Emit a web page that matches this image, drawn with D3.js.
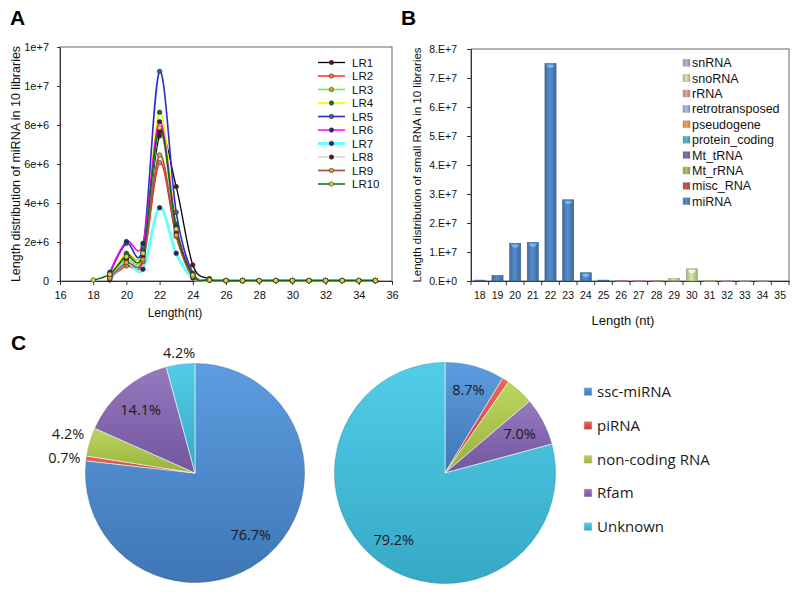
<!DOCTYPE html>
<html><head><meta charset="utf-8">
<script src="https://cdn.jsdelivr.net/npm/d3@7/dist/d3.min.js"></script>
<style>body{margin:0;background:#fff}svg{display:block}</style>
</head><body>
<svg id="c" width="798" height="597"></svg>
<script>
// ---------- Panel A data (values in millions) ----------
const lengthsA = [18,19,20,21,22,23,24,25,26,27,28,29,30,31,32,33,34,35];
const LR1  = [null,0.25,1.35,1.50,7.44,4.84,0.82,0.12,0.03,0.02,0.02,0.02,0.02,0.02,0.02,0.02,0.02,0.02];
const LR2  = [null,0.12,0.77,0.99,6.07,2.28,0.22,0.05,0.02,0.02,0.02,0.02,0.02,0.02,0.02,0.02,0.02,0.02];
const LR3  = [null,0.20,1.08,1.35,7.74,2.55,0.28,0.05,0.02,0.02,0.02,0.02,0.02,0.02,0.02,0.02,0.02,0.02];
const LR4  = [null,0.30,1.42,1.59,8.65,2.92,0.38,0.06,0.02,0.02,0.02,0.02,0.02,0.02,0.02,0.02,0.02,0.02];
const LR5  = [null,0.38,1.93,1.76,10.75,3.52,0.40,0.06,0.02,0.02,0.02,0.02,0.02,0.02,0.02,0.02,0.02,0.02];
const LR6  = [null,0.45,2.02,1.93,8.17,2.78,0.35,0.06,0.02,0.02,0.02,0.02,0.02,0.02,0.02,0.02,0.02,0.02];
const LR7  = [null,0.05,0.95,0.60,3.76,1.42,0.15,0.04,0.02,0.02,0.02,0.02,0.02,0.02,0.02,0.02,0.02,0.02];
const LR8  = [null,0.20,1.15,1.25,7.66,2.45,0.30,0.05,0.02,0.02,0.02,0.02,0.02,0.02,0.02,0.02,0.02,0.02];
const LR9  = [null,0.15,0.94,1.10,6.46,2.35,0.22,0.05,0.02,0.02,0.02,0.02,0.02,0.02,0.02,0.02,0.02,0.02];
const LR10 = [0.05,0.35,1.25,1.42,7.86,2.67,0.30,0.05,0.02,0.02,0.02,0.02,0.02,0.02,0.02,0.02,0.02,0.02];
const seriesNamesA = ["LR1","LR2","LR3","LR4","LR5","LR6","LR7","LR8","LR9","LR10"];
const seriesValuesA = [LR1,LR2,LR3,LR4,LR5,LR6,LR7,LR8,LR9,LR10];
const xTicksA = [16,18,20,22,24,26,28,30,32,34,36];
const yTicksA = [0,2,4,6,8,10,12];
const yTickLabelsA = ["0","2e+6","4e+6","6e+6","8e+6","1e+7","1e+7"];

// ---------- Panel B data ----------
const lengthsB = [18,19,20,21,22,23,24,25,26,27,28,29,30,31,32,33,34,35];
const miRNA          = [0.3e6,1.9e6,13.0e6,13.3e6,75.0e6,28.0e6,2.85e6,0.3e6,0.05e6,0,0,0,0,0,0,0,0,0];
const misc_RNA       = [0,0,0,0,0,0,0,0,0,0,0,0,0,0,0,0,0,0];
const Mt_rRNA        = [0,0,0,0,0,0,0,0,0,0,0,0,0,0,0,0,0,0];
const Mt_tRNA        = [0,0,0,0,0,0,0,0,0,0,0,0,0,0,0,0,0,0];
const protein_coding = [0,0,0,0,0,0,0,0,0,0,0,0,0,0,0,0,0,0];
const pseudogene     = [0,0,0,0,0,0,0,0,0,0,0,0,0,0,0,0,0,0];
const retrotransposed= [0,0,0,0,0,0,0,0,0,0,0,0,0,0,0,0,0,0];
const rRNA           = [0,0,0,0,0,0,0,0,0.15e6,0.12e6,0.12e6,0.2e6,0,0.12e6,0.05e6,0.03e6,0.03e6,0];
const snoRNA         = [0,0,0,0,0,0,0,0,0,0,0,0.6e6,4.2e6,0.1e6,0,0,0,0];
const snRNA          = [0,0,0,0,0,0,0,0,0,0,0,0,0,0,0,0,0,0];
const typesB = ["miRNA","misc_RNA","Mt_rRNA","Mt_tRNA","protein_coding","pseudogene","retrotransposed","rRNA","snoRNA","snRNA"];
const typeValuesB = [miRNA,misc_RNA,Mt_rRNA,Mt_tRNA,protein_coding,pseudogene,retrotransposed,rRNA,snoRNA,snRNA];
const yTicksB = [0,1e7,2e7,3e7,4e7,5e7,6e7,7e7,8e7];
const yTickLabelsB = ["0.E+0","1.E+7","2.E+7","3.E+7","4.E+7","5.E+7","6.E+7","7.E+7","8.E+7"];

// ---------- Panel C data ----------
const classesC = ["ssc-miRNA","piRNA","non-coding RNA","Rfam","Unknown"];
const pieLeft  = [76.7,0.7,4.2,14.1,4.2];
const pieRight = [8.7,1.0,4.1,7.0,79.2];

// ---------- styles ----------
const fontA = "'Liberation Sans', Arial, sans-serif";
const fontC = "'Open Sans', 'DejaVu Sans', sans-serif";
const lineStyles = {
  LR1:{stroke:"#000000",w:1.3,mk:"#5a1020"},
  LR2:{stroke:"#ff1a1a",w:1.4,mk:"#d98a3c"},
  LR3:{stroke:"#66ee66",w:1.6,mk:"#c9b800"},
  LR4:{stroke:"#f5f500",w:1.6,mk:"#1d6b2c"},
  LR5:{stroke:"#2b2bd0",w:1.6,mk:"#2c6e8e"},
  LR6:{stroke:"#ff00ff",w:1.5,mk:"#1c2a6e"},
  LR7:{stroke:"#66ffff",w:3.0,mk:"#3c1b5c"},
  LR8:{stroke:"#bbbbbb",w:1.0,mk:"#5a1020"},
  LR9:{stroke:"#a8554f",w:1.8,mk:"#e0a030"},
  LR10:{stroke:"#0b6b0b",w:1.5,mk:"#d6d63a"}
};
const typeColors = {
  miRNA:"#4f81bd", misc_RNA:"#c0504d", Mt_rRNA:"#9bbb59", Mt_tRNA:"#8064a2",
  protein_coding:"#4bacc6", pseudogene:"#f79646", retrotransposed:"#95b3d7",
  rRNA:"#d99694", snoRNA:"#c3d69b", snRNA:"#b3a2c7"
};
const pieColors = {
  "ssc-miRNA":["#5d9de0","#3f76b6"], "piRNA":["#e8685c","#c43c30"],
  "non-coding RNA":["#bcd65e","#97b23d"], "Rfam":["#9679bf","#72569e"],
  "Unknown":["#52cde8","#35a9c6"]
};

const svg = d3.select("#c");
svg.append("rect").attr("width",798).attr("height",597).attr("fill","#fff");
const defs = svg.append("defs");

// ================= Panel A =================
const xA = d3.scaleLinear().domain([16,36]).range([60,392]);
const yA = d3.scaleLinear().domain([0,12]).range([281,47]);
const gA = svg.append("g");

gA.append("text").text("A").attr("x",10).attr("y",25)
  .attr("font-family",fontA).attr("font-weight","bold").attr("font-size",21);

gA.append("rect").attr("x",xA(16)).attr("y",yA(12)).attr("width",xA(36)-xA(16)).attr("height",yA(0)-yA(12))
  .attr("fill","none").attr("stroke","#666").attr("stroke-width",1);

const axA_x = gA.append("g").attr("transform",`translate(0,${yA(0)})`)
  .call(d3.axisBottom(xA).tickValues(xTicksA).tickSize(4).tickSizeOuter(0).tickPadding(6));
const axA_y = gA.append("g").attr("transform",`translate(${xA(16)},0)`)
  .call(d3.axisLeft(yA).tickValues(yTicksA).tickFormat((d,i)=>yTickLabelsA[i]).tickSize(3).tickSizeOuter(0).tickPadding(8));
[axA_x,axA_y].forEach(a=>{
  a.selectAll("path").attr("stroke","#333");
  a.selectAll("line").attr("stroke","#333");
  a.selectAll("text").attr("font-family",fontA).attr("font-size",11).attr("fill","#111");
});

gA.append("text").text("Length distribution of miRNA in 10 libraries")
  .attr("transform",`translate(20,${(yA(0)+yA(12))/2}) rotate(-90)`)
  .attr("text-anchor","middle").attr("font-family",fontA).attr("font-size",12.5).attr("fill","#111");
gA.append("text").text("Length(nt)").attr("x",175).attr("y",317)
  .attr("text-anchor","middle").attr("font-family",fontA).attr("font-size",12).attr("fill","#111");

const lineA = d3.line().defined(d=>d.v!=null).x(d=>xA(d.x)).y(d=>yA(d.v)).curve(d3.curveCardinal.tension(0));
seriesNamesA.forEach((name,si)=>{
  const pts = lengthsA.map((x,i)=>({x, v: seriesValuesA[si][i]}));
  const st = lineStyles[name];
  gA.append("path").datum(pts).attr("d",lineA).attr("fill","none")
    .attr("stroke",st.stroke).attr("stroke-width",st.w);
});
seriesNamesA.forEach((name,si)=>{
  const pts = lengthsA.map((x,i)=>({x, v: seriesValuesA[si][i]})).filter(d=>d.v!=null);
  const st = lineStyles[name];
  gA.append("g").selectAll("circle").data(pts).join("circle")
    .attr("cx",d=>xA(d.x)).attr("cy",d=>yA(d.v)).attr("r",2.3)
    .attr("fill",st.mk).attr("stroke","#333").attr("stroke-width",0.6);
});

// legend A
const legA = gA.append("g");
seriesNamesA.forEach((name,i)=>{
  const y = 62.5 + i*13.5;
  const st = lineStyles[name];
  legA.append("line").attr("x1",318).attr("x2",345).attr("y1",y).attr("y2",y)
    .attr("stroke",st.stroke).attr("stroke-width",st.w);
  legA.append("circle").attr("cx",331.5).attr("cy",y).attr("r",2.2)
    .attr("fill",st.mk).attr("stroke","#333").attr("stroke-width",0.6);
  legA.append("text").text(name).attr("x",352).attr("y",y).attr("dy","0.36em")
    .attr("font-family",fontA).attr("font-size",11.5).attr("fill","#111");
});

// ================= Panel B =================
const xB = d3.scaleBand().domain(lengthsB).range([471,789]).paddingInner(0.37).paddingOuter(0.185);
const yB = d3.scaleLinear().domain([0,8e7]).range([281,49]);
const gB = svg.append("g");
gB.append("text").text("B").attr("x",401).attr("y",25)
  .attr("font-family",fontA).attr("font-weight","bold").attr("font-size",21);

gB.append("rect").attr("x",471).attr("y",yB(8e7)).attr("width",789-471).attr("height",yB(0)-yB(8e7))
  .attr("fill","none").attr("stroke","#666");

const axB_y = gB.append("g").attr("transform","translate(471,0)")
  .call(d3.axisLeft(yB).tickValues(yTicksB).tickFormat((d,i)=>yTickLabelsB[i]).tickSize(4).tickSizeOuter(0).tickPadding(10));
const axB_x = gB.append("g").attr("transform",`translate(0,${yB(0)})`)
  .call(d3.axisBottom(xB).tickSize(0).tickPadding(11));
[axB_x,axB_y].forEach(a=>{
  a.selectAll("path").attr("stroke","#333");
  a.selectAll("line").attr("stroke","#333");
  a.selectAll("text").attr("font-family",fontA).attr("font-size",10.5).attr("fill","#111");
});
// boundary tick marks
const stepB = xB.step();
gB.append("g").selectAll("line").data(d3.range(lengthsB.length+1)).join("line")
  .attr("x1",i=>471+i*stepB).attr("x2",i=>471+i*stepB)
  .attr("y1",yB(0)).attr("y2",yB(0)+4).attr("stroke","#333");

gB.append("text").text("Length distribution of small RNA in 10 libraries")
  .attr("transform",`translate(421,${(yB(0)+yB(8e7))/2}) rotate(-90)`)
  .attr("text-anchor","middle").attr("font-family",fontA).attr("font-size",11.5).attr("fill","#111");
gB.append("text").text("Length (nt)").attr("x",623).attr("y",325)
  .attr("text-anchor","middle").attr("font-family",fontA).attr("font-size",13).attr("fill","#111");

// gradients for bars
typesB.forEach(t=>{
  const c = d3.color(typeColors[t]);
  const g = defs.append("linearGradient").attr("id","bg_"+t).attr("x1",0).attr("x2",1).attr("y1",0).attr("y2",0);
  g.append("stop").attr("offset","0%").attr("stop-color",c.darker(0.5));
  g.append("stop").attr("offset","45%").attr("stop-color",c.brighter(0.25));
  g.append("stop").attr("offset","100%").attr("stop-color",c.darker(0.6));
});
const tableB = lengthsB.map((len,i)=>{
  const o = {len};
  typesB.forEach((t,k)=>o[t]=typeValuesB[k][i]);
  return o;
});
const stackB = d3.stack().keys(typesB)(tableB);
stackB.forEach(layer=>{
  const t = layer.key;
  gB.append("g").selectAll("rect").data(layer.filter(d=>d[1]-d[0]>0)).join("rect")
    .attr("x",d=>xB(d.data.len)).attr("width",xB.bandwidth())
    .attr("y",d=>yB(d[1])).attr("height",d=>Math.max(0.8,yB(d[0])-yB(d[1])))
    .attr("fill",`url(#bg_${t})`).attr("stroke",d3.color(typeColors[t]).darker(0.8)).attr("stroke-width",0.6);
  // top highlight
  gB.append("g").selectAll("path").data(layer.filter(d=>yB(d[0])-yB(d[1])>6)).join("path")
    .attr("d",d=>{const x0=xB(d.data.len)+1.5,x1=xB(d.data.len)+xB.bandwidth()-1.5,y0=yB(d[1])+1.2;
      return `M${x0},${y0}L${x1},${y0}L${(x0+x1)/2+2},${y0+3}L${(x0+x1)/2-2},${y0+3}Z`;})
    .attr("fill",d3.color(typeColors[t]).brighter(1.2)).attr("opacity",0.8);
});

// legend B (reverse order)
const legB = gB.append("g");
typesB.slice().reverse().forEach((t,i)=>{
  const y = 62.7 + i*15.4;
  legB.append("rect").attr("x",683).attr("y",y-3.5).attr("width",7).attr("height",7)
    .attr("fill",`url(#bg_${t})`).attr("stroke","#aaa").attr("stroke-width",0.5);
  legB.append("text").text(t).attr("x",692).attr("y",y).attr("dy","0.36em")
    .attr("font-family",fontA).attr("font-size",12.5).attr("fill","#111");
});

// ================= Panel C =================
const gC = svg.append("g");
gC.append("text").text("C").attr("x",11).attr("y",350)
  .attr("font-family",fontA).attr("font-weight","bold").attr("font-size",21);

classesC.forEach((c,i)=>{
  const g = defs.append("linearGradient").attr("id","pg"+i).attr("x1",0).attr("x2",0).attr("y1",0).attr("y2",1);
  g.append("stop").attr("offset","0%").attr("stop-color",pieColors[c][0]);
  g.append("stop").attr("offset","100%").attr("stop-color",pieColors[c][1]);
});

const pie = d3.pie().sort(null).value(d=>d.v);
function drawPie(cx, cy, r, values, labelSpec){
  const data = pie(classesC.map((c,i)=>({c,i,v:values[i]})));
  const arc = d3.arc().innerRadius(0).outerRadius(r);
  const g = gC.append("g").attr("transform",`translate(${cx},${cy})`);
  g.selectAll("path").data(data).join("path").attr("d",arc)
    .attr("fill",d=>`url(#pg${d.data.i})`).attr("stroke","rgba(255,255,255,0.55)").attr("stroke-width",1);
  // soft rim
  g.append("circle").attr("r",r-0.5).attr("fill","none").attr("stroke","rgba(0,0,0,0.12)").attr("stroke-width",1);
  labelSpec.forEach(s=>{
    const d = data[s.idx];
    const a = (d.startAngle+d.endAngle)/2;
    const rr = r*s.f;
    g.append("text").text(values[s.idx].toFixed(1)+"%")
      .attr("x",Math.sin(a)*rr + (s.dx||0)).attr("y",-Math.cos(a)*rr + (s.dy||0))
      .attr("dy","0.35em").attr("text-anchor",s.anchor||"middle")
      .attr("font-family",fontC).attr("font-size",14.5).attr("fill","#1a1a1a");
  });
}
drawPie(195,473,110,pieLeft,[
  {idx:0,f:0.76},{idx:3,f:0.76},
  {idx:4,f:1.1},
  {idx:2,f:1.05,anchor:"end",dy:-6},
  {idx:1,f:1.05,anchor:"end"}
]);
drawPie(445,473,111,pieRight,[
  {idx:0,f:0.78},{idx:3,f:0.76},{idx:4,f:0.76}
]);

// legend C
const legC = gC.append("g");
classesC.forEach((c,i)=>{
  const y = 391.7 + i*33.75;
  legC.append("rect").attr("x",584).attr("y",y-4).attr("width",8).attr("height",8)
    .attr("fill",`url(#pg${i})`).attr("stroke","#ddd").attr("stroke-width",0.5);
  legC.append("text").text(c).attr("x",597).attr("y",y).attr("dy","0.36em")
    .attr("font-family",fontC).attr("font-size",15).attr("fill","#1a1a1a");
});
</script>
</body></html>
